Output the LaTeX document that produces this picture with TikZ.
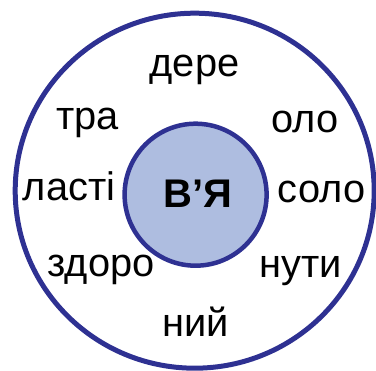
\documentclass[tikz,border=0pt]{standalone}
\usepackage{fontspec}
\setmainfont{Liberation Sans}
\definecolor{ringblue}{HTML}{2E3192}
\definecolor{fillblue}{HTML}{AEBDE0}
\tikzset{
  word/.style={anchor=base, inner sep=0pt, font=\fontsize{39.8}{44}\selectfont},
}
\begin{document}
\begin{tikzpicture}[x=1pt,y=-1pt]
\useasboundingbox (0,0) rectangle (376,371);
\draw[ringblue, line width=5pt] (194.7,190.7) ellipse [x radius=179.5pt, y radius=177.5pt];
\node[circle, draw=ringblue, fill=fillblue, line width=4.5pt, minimum size=142pt, inner sep=0pt] (core) at (195.6,194.7) {};
\node[word, font=\fontsize{40}{44}\selectfont\bfseries] (vya) at (197.5,208) {В’Я};
\node[word] (w1) at (194.5,77) {дере};
\node[word] (w2) at (87.5,130) {тра};
\node[word] (w3) at (305,133) {оло};
\node[word] (w4) at (69,201) {ласті};
\node[word] (w5) at (321.5,203) {соло};
\node[word] (w6) at (101,277) {здоро};
\node[word] (w7) at (301,278) {нути};
\node[word] (w8) at (195.5,337) {ний};
\end{tikzpicture}
\end{document}
